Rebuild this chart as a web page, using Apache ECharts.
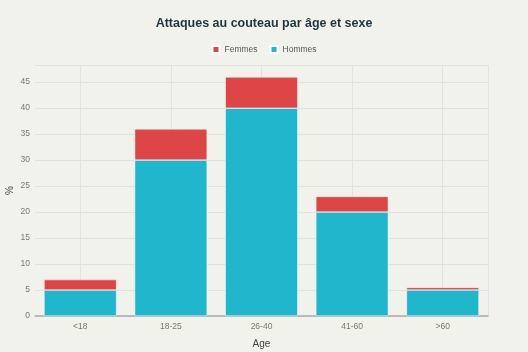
<!DOCTYPE html>
<html>
<head>
<meta charset="utf-8">
<script src="https://cdn.jsdelivr.net/npm/echarts@6/dist/echarts.min.js"></script>
<style>
  html, body { margin: 0; padding: 0; background: #f2f2ed; }
  #chart { width: 528px; height: 352px; }
</style>
</head>
<body>
<div id="chart"></div>
<script>
// Age groups and shares (%)
const ageGroups = ['<18', '18-25', '26-40', '41-60', '>60'];
const hommes = [5, 30, 40, 20, 5];
const femmes = [2, 6, 6, 3, 0.5];

// helper axis with 10 half-bands so gridlines land on category centres
const halfBands = [];
ageGroups.forEach(g => { halfBands.push(g + 'a'); halfBands.push(g + 'b'); });

const chart = echarts.init(document.getElementById('chart'));
const font = '"Liberation Sans", Arial, sans-serif';

chart.setOption({
  backgroundColor: '#f2f2ed',
  textStyle: { fontFamily: font },
  title: {
    text: 'Attaques au couteau par âge et sexe',
    left: 'center',
    top: 12,
    textStyle: { fontSize: 12.5, fontWeight: 'bold', color: '#1d3640', fontFamily: font }
  },
  legend: {
    data: ['Femmes', 'Hommes'],
    top: 40,
    left: 'center',
    icon: 'rect',
    itemWidth: 7,
    itemHeight: 7,
    itemGap: 12,
    textStyle: { fontSize: 8.5, color: '#555' }
  },
  grid: { left: 35, right: 40, top: 65, bottom: 36, outerBoundsMode: 'none' },
  xAxis: [
    {
      type: 'category',
      data: ageGroups,
      name: 'Age',
      nameLocation: 'middle',
      nameGap: 23,
      nameTextStyle: { fontSize: 10, color: '#444' },
      axisLine: { lineStyle: { color: '#aaa', width: 1.5 } },
      axisTick: { show: false },
      axisLabel: { fontSize: 8.5, color: '#777', margin: 6 },
      splitLine: { show: false }
    },
    {
      type: 'category',
      data: halfBands,
      position: 'bottom',
      axisLine: { show: false },
      axisTick: { show: false },
      axisLabel: { show: false },
      splitLine: {
        show: true,
        interval: (i) => i % 2 === 1,
        lineStyle: { color: '#e2e2dc', width: 1 }
      }
    }
  ],
  yAxis: {
    type: 'value',
    min: 0,
    max: 48.3,
    interval: 5,
    name: '%',
    nameLocation: 'middle',
    nameGap: 20,
    nameMoveOverlap: false,
    nameTextStyle: { fontSize: 10, color: '#444' },
    axisLine: { show: false },
    axisTick: { show: false },
    axisLabel: {
      fontSize: 8.5,
      color: '#777',
      margin: 5,
      showMaxLabel: false,
      formatter: v => (v % 5 === 0 ? String(v) : '')
    },
    splitLine: { lineStyle: { color: '#e2e2dc', width: 1 } }
  },
  series: [
    {
      name: 'Hommes',
      type: 'bar',
      stack: 'total',
      data: hommes,
      barCategoryGap: '20%',
      itemStyle: { color: '#20b6cc', borderColor: '#ffffff', borderWidth: 0.5 }
    },
    {
      name: 'Femmes',
      type: 'bar',
      stack: 'total',
      data: femmes,
      barCategoryGap: '20%',
      itemStyle: { color: '#dd4547', borderColor: '#ffffff', borderWidth: 0.5 }
    }
  ]
});
</script>
</body>
</html>
